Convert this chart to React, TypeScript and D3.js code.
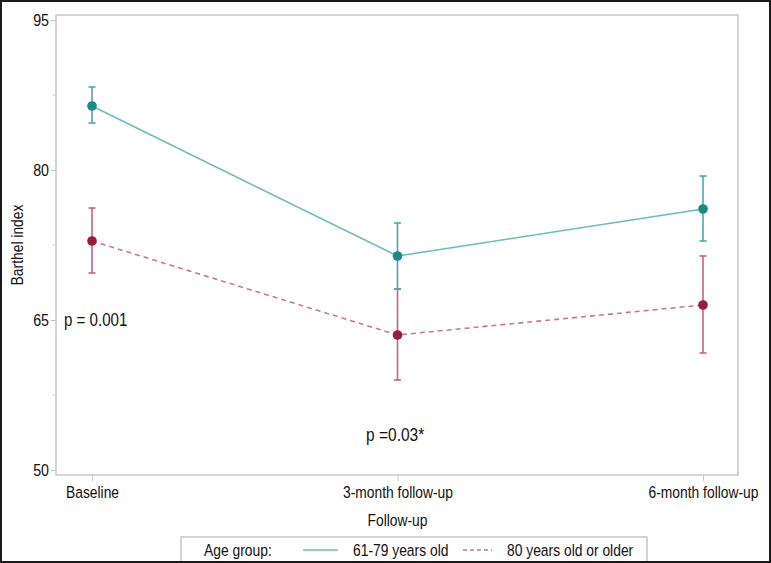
import * as d3 from "d3";
import React, { useRef, useEffect } from "react";

const W = 771;
const H = 563;
const margin = { top: 15, right: 33, bottom: 88, left: 56 };
const innerW = W - margin.left - margin.right;
const innerH = H - margin.top - margin.bottom;

const categories = ["Baseline", "3-month follow-up", "6-month follow-up"];
const yTicks = [50, 65, 80, 95];
const yMinorTicks = [57.5, 72.5, 87.5];

// 61-79 years old
const youngMean = [86.4, 71.4, 76.1];
const youngLow = [84.7, 68.1, 72.9];
const youngHigh = [88.3, 74.7, 79.4];

// 80 years old or older
const oldMean = [72.9, 63.5, 66.5];
const oldLow = [69.7, 59.0, 61.7];
const oldHigh = [76.2, 68.1, 71.4];

const font = "'Liberation Sans', Arial, sans-serif";
const sx = 0.84; // condensed look
const tealLine = "#6cbdb8";
const tealBar = "#4ea8a2";
const tealDot = "#1a8a84";
const redLine = "#c9778a";
const redBar = "#c1657b";
const redDot = "#9c1c3d";
const frameGray = "#c6c6c6";
const ink = "#111";

function App() {
  const ref = useRef<SVGSVGElement>(null);

  useEffect(() => {
    const svg = d3.select(ref.current);
    svg.selectAll("*").remove();

    const x = d3
      .scalePoint()
      .domain(categories)
      .range([36, innerW - 35]);
    const y = d3.scaleLinear().domain([49.5, 95.5]).range([innerH, 0]);

    // condensed text helper
    const label = (
      parent: any,
      tx: number,
      ty: number,
      t: string,
      size: number,
      anchor = "start",
      rot = 0
    ) =>
      parent
        .append("text")
        .attr("transform", `translate(${tx},${ty}) rotate(${rot}) scale(${sx},1)`)
        .attr("text-anchor", anchor)
        .attr("font-family", font)
        .attr("font-size", size)
        .attr("fill", ink)
        .text(t);

    // outer frame
    svg
      .append("rect")
      .attr("x", 1)
      .attr("y", 1)
      .attr("width", W - 2)
      .attr("height", H - 2)
      .attr("fill", "white")
      .attr("stroke", "#1a1a1a")
      .attr("stroke-width", 2);

    const g = svg
      .append("g")
      .attr("transform", `translate(${margin.left},${margin.top})`);

    // y axis
    const yAxis = g
      .append("g")
      .call(d3.axisLeft(y).tickValues(yTicks).tickSize(5).tickFormat(d3.format("d")));
    yAxis.select(".domain").remove();
    yAxis.selectAll("line").attr("stroke", frameGray);
    yAxis
      .selectAll("text")
      .attr("font-family", font)
      .attr("font-size", 17)
      .attr("fill", ink)
      .attr("x", -7 / sx)
      .attr("transform", `scale(${sx},1)`);
    g.append("g")
      .selectAll("line")
      .data(yMinorTicks)
      .join("line")
      .attr("x1", -3)
      .attr("x2", 0)
      .attr("y1", (d) => y(d))
      .attr("y2", (d) => y(d))
      .attr("stroke", frameGray);

    // x axis
    const xAxis = g
      .append("g")
      .attr("transform", `translate(0,${innerH})`)
      .call(d3.axisBottom(x).tickSize(6));
    xAxis.select(".domain").remove();
    xAxis.selectAll("line").attr("stroke", frameGray);
    xAxis
      .selectAll("text")
      .attr("font-family", font)
      .attr("font-size", 16.5)
      .attr("fill", ink)
      .attr("y", 11)
      .attr("transform", `scale(${sx},1)`);

    // plot frame
    g.append("rect")
      .attr("width", innerW)
      .attr("height", innerH)
      .attr("fill", "none")
      .attr("stroke", frameGray)
      .attr("stroke-width", 1.5);

    const line = d3
      .line<number>()
      .x((_, i) => x(categories[i]) as number)
      .y((d) => y(d));

    const series = [
      { mean: oldMean, low: oldLow, high: oldHigh, line: redLine, bar: redBar, dot: redDot, dash: "5,4" },
      { mean: youngMean, low: youngLow, high: youngHigh, line: tealLine, bar: tealBar, dot: tealDot, dash: null },
    ];

    series.forEach((s) => {
      g.append("path")
        .datum(s.mean)
        .attr("d", line)
        .attr("fill", "none")
        .attr("stroke", s.line)
        .attr("stroke-width", 1.6)
        .attr("stroke-dasharray", s.dash);

      const eb = g.append("g").attr("stroke", s.bar).attr("stroke-width", 1.6);
      categories.forEach((c, i) => {
        const cx = x(c) as number;
        eb.append("line")
          .attr("x1", cx)
          .attr("x2", cx)
          .attr("y1", y(s.low[i]))
          .attr("y2", y(s.high[i]));
        [s.low[i], s.high[i]].forEach((v) => {
          eb.append("line")
            .attr("x1", cx - 3.5)
            .attr("x2", cx + 3.5)
            .attr("y1", y(v))
            .attr("y2", y(v));
        });
      });

      g.append("g")
        .selectAll("circle")
        .data(s.mean)
        .join("circle")
        .attr("cx", (_, i) => x(categories[i]) as number)
        .attr("cy", (d) => y(d))
        .attr("r", 4.8)
        .attr("fill", s.dot);
    });

    // annotations
    label(g, 8, y(65) + 6, "p = 0.001", 18);
    label(g, 310, 426, "p =0.03*", 18.5);

    // axis titles
    label(svg, 23, margin.top + innerH / 2, "Barthel index", 16.5, "middle", -90);
    label(svg, margin.left + (x(categories[1]) as number), 526, "Follow-up", 16.5, "middle");

    // legend
    const lg = svg.append("g");
    lg.append("rect")
      .attr("x", 181)
      .attr("y", 537)
      .attr("width", 466)
      .attr("height", 26)
      .attr("fill", "white")
      .attr("stroke", frameGray)
      .attr("stroke-width", 1.5);
    const ly = 550;
    label(lg, 204, ly + 6, "Age group:", 16.5);
    lg.append("line")
      .attr("x1", 303)
      .attr("x2", 338)
      .attr("y1", ly)
      .attr("y2", ly)
      .attr("stroke", tealLine)
      .attr("stroke-width", 1.6);
    label(lg, 353, ly + 6, "61-79 years old", 16.5);
    lg.append("line")
      .attr("x1", 463)
      .attr("x2", 492)
      .attr("y1", ly)
      .attr("y2", ly)
      .attr("stroke", redLine)
      .attr("stroke-width", 1.6)
      .attr("stroke-dasharray", "4,3");
    label(lg, 507, ly + 6, "80 years old or older", 16.5);

    // bottom frame edge over legend
    svg
      .append("line")
      .attr("x1", 0)
      .attr("x2", W)
      .attr("y1", H - 1)
      .attr("y2", H - 1)
      .attr("stroke", "#1a1a1a")
      .attr("stroke-width", 2);
  }, []);

  return (
    <svg
      ref={ref}
      width={W}
      height={H}
      style={{ position: "absolute", left: 0, top: 0, display: "block" }}
    ></svg>
  );
}

export default App;
